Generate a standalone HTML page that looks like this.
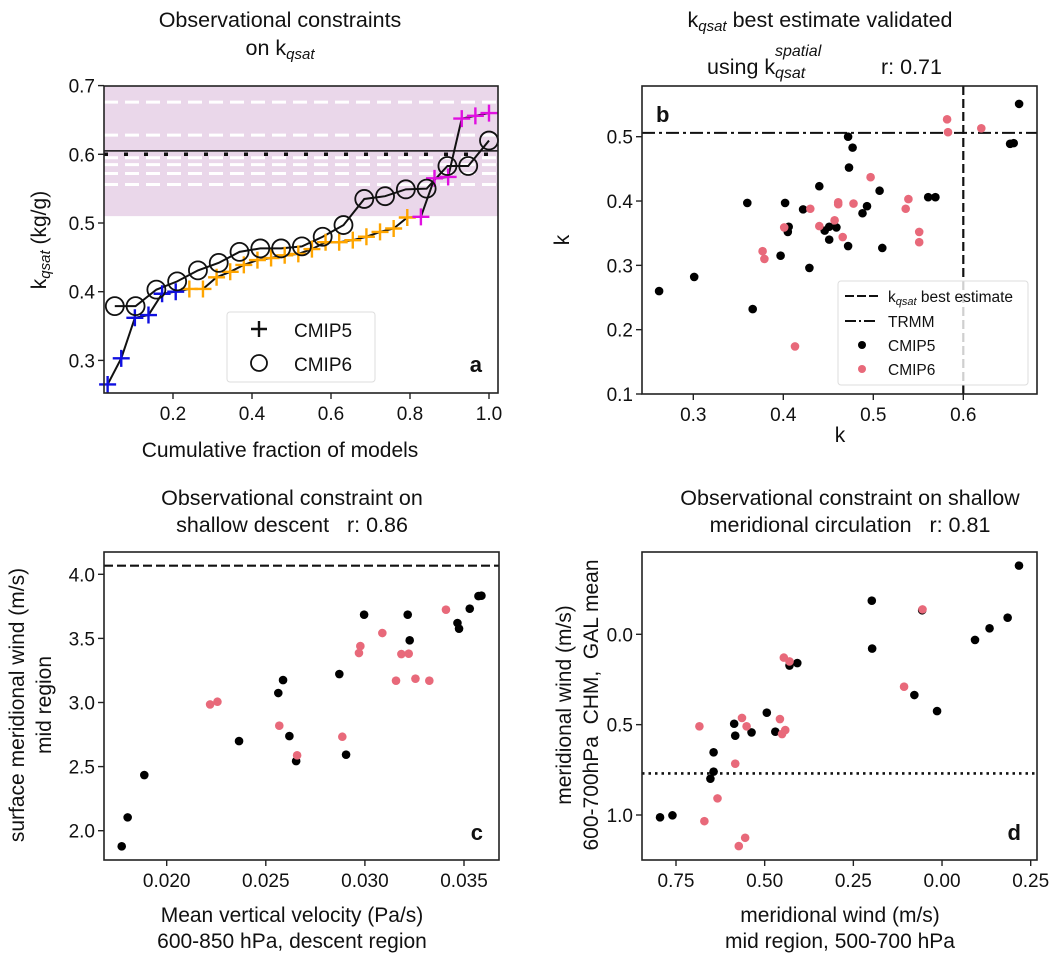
<!DOCTYPE html>
<html><head><meta charset="utf-8"><style>
html,body{margin:0;padding:0;background:#fff;}
svg{display:block;font-family:"Liberation Sans",Arial,sans-serif;}
</style></head><body>
<svg id="fig" width="1050" height="953" viewBox="0 0 1050 953" xmlns="http://www.w3.org/2000/svg"></svg>
<script>
// ---------- Panel A data ----------
const aC5 = [0.265,0.303,0.362,0.366,0.397,0.400,0.404,0.404,0.421,0.429,0.439,0.446,0.449,0.453,0.455,0.462,0.472,0.472,0.475,0.480,0.487,0.492,0.508,0.509,0.565,0.567,0.652,0.656,0.660];
const aC5Group = ['b','b','b','b','b','b','o','o','o','o','o','o','o','o','o','o','o','o','o','o','o','o','o','m','m','m','m','m','m'];
const aC6 = [0.379,0.379,0.403,0.415,0.431,0.442,0.458,0.463,0.463,0.466,0.480,0.497,0.535,0.539,0.549,0.550,0.583,0.583,0.620];
const aBand = [0.51,0.70];
const aBest = [0.605];
const aObs = [0.600];
const aWhite = [0.676,0.628,0.595,0.585,0.572,0.556];
const aXTicks = [0.2,0.4,0.6,0.8,1.0];
const aXTickLabels = ['0.2','0.4','0.6','0.8','1.0'];
const aYTicks = [0.3,0.4,0.5,0.6,0.7];
const aYTickLabels = ['0.3','0.4','0.5','0.6','0.7'];
// ---------- Panel B data ----------
const bC5x = [0.262,0.301,0.366,0.360,0.402,0.397,0.406,0.405,0.422,0.429,0.440,0.446,0.451,0.459,0.451,0.472,0.477,0.473,0.472,0.488,0.493,0.507,0.510,0.561,0.569,0.652,0.656,0.662];
const bC5y = [0.260,0.282,0.232,0.397,0.397,0.315,0.360,0.352,0.387,0.296,0.423,0.354,0.360,0.359,0.340,0.500,0.483,0.452,0.330,0.381,0.392,0.416,0.327,0.406,0.406,0.489,0.490,0.551];
const bC6x = [0.582,0.583,0.620,0.497,0.539,0.536,0.551,0.551,0.478,0.461,0.461,0.457,0.466,0.440,0.430,0.401,0.377,0.379,0.413];
const bC6y = [0.527,0.507,0.513,0.437,0.403,0.388,0.352,0.336,0.396,0.398,0.395,0.370,0.344,0.361,0.388,0.359,0.322,0.310,0.174];
const bTRMM = [0.506];
const bBest = [0.600];
const bXTicks = [0.3,0.4,0.5,0.6];
const bXTickLabels = ['0.3','0.4','0.5','0.6'];
const bYTicks = [0.1,0.2,0.3,0.4,0.5];
const bYTickLabels = ['0.1','0.2','0.3','0.4','0.5'];
// ---------- Panel C data ----------
const cC5x = [0.01773,0.01803,0.01887,0.02365,0.02563,0.02587,0.02619,0.02653,0.02871,0.02905,0.02996,0.03216,0.03226,0.03467,0.03475,0.03529,0.03573,0.03588];
const cC5y = [1.878,2.104,2.434,2.699,3.074,3.175,2.738,2.543,3.222,2.593,3.685,3.685,3.485,3.620,3.576,3.732,3.830,3.833];
const cC6x = [0.02219,0.02256,0.02568,0.02658,0.02886,0.02970,0.02977,0.03088,0.03157,0.03184,0.03221,0.03255,0.03325,0.03409];
const cC6y = [2.985,3.006,2.819,2.588,2.733,3.386,3.440,3.542,3.170,3.378,3.381,3.186,3.170,3.724];
const cObs = [4.067];
const cXTicks = [0.020,0.025,0.030,0.035];
const cXTickLabels = ['0.020','0.025','0.030','0.035'];
const cYTicks = [2.0,2.5,3.0,3.5,4.0];
const cYTickLabels = ['2.0','2.5','3.0','3.5','4.0'];
// ---------- Panel D data ----------
const dC5x = [-0.795,-0.760,-0.653,-0.644,-0.644,-0.586,-0.583,-0.537,-0.494,-0.470,-0.430,-0.408,-0.198,-0.197,-0.078,-0.056,-0.014,0.093,0.134,0.185,0.217];
const dC5y = [-1.013,-1.002,-0.799,-0.760,-0.653,-0.495,-0.561,-0.543,-0.434,-0.539,-0.173,-0.159,0.186,-0.079,-0.336,0.133,-0.425,-0.031,0.033,0.092,0.380];
const dC6x = [-0.684,-0.670,-0.633,-0.583,-0.573,-0.555,-0.564,-0.551,-0.457,-0.451,-0.442,-0.446,-0.430,-0.107,-0.055];
const dC6y = [-0.509,-1.034,-0.908,-0.716,-1.172,-1.126,-0.463,-0.509,-0.469,-0.552,-0.530,-0.129,-0.150,-0.290,0.138];
const dObs = [-0.77];
const dXTicks = [-0.75,-0.50,-0.25,0.00,0.25];
const dXTickLabels = ['0.75','0.50','0.25','0.00','0.25'];
const dYTicks = [0.0,-0.5,-1.0];
const dYTickLabels = ['0.0','0.5','1.0'];

const NS='http://www.w3.org/2000/svg';
const svg=document.getElementById('fig');
function mk(tag,attrs,parent){const e=document.createElementNS(NS,tag);for(const k in attrs)e.setAttribute(k,attrs[k]);(parent||svg).appendChild(e);return e;}
function lin(d0,d1,r0,r1){return v=>r0+(v-d0)/(d1-d0)*(r1-r0);}
const PINK='#e8697a';
const TS=19, LS=21, TTS=21.5;

function axesFrame(g,L,T,R,B){
  const f=mk('rect',{x:L,y:T,width:R-L,height:B-T,fill:'none',stroke:'#222','stroke-width':1.6},g);
  
  
}
function ticks(g,xs,xl,ys,yl,X,Y,L,B){
  xs.forEach((v,i)=>{
    const t=mk('line',{x1:X(v),x2:X(v),y1:B,y2:B+6,stroke:'#222','stroke-width':1.4},g);
    
    
    const s=mk('text',{x:X(v),y:B+27,'font-size':TS,'text-anchor':'middle',fill:'#111'},g);
    
    
    s.textContent=xl[i];
  });
  ys.forEach((v,i)=>{
    const t=mk('line',{x1:L-6,x2:L,y1:Y(v),y2:Y(v),stroke:'#222','stroke-width':1.4},g);
    
    
    const s=mk('text',{x:L-9,y:Y(v)+7,'font-size':TS,'text-anchor':'end',fill:'#111'},g);
    
    
    s.textContent=yl[i];
  });
}
function dots(g,xs,ys,X,Y,color,name){
  xs.forEach((v,i)=>{
    const c=mk('circle',{cx:X(v),cy:Y(ys[i]),r:4.3,fill:color},g);
    
    
  });
}
function txt(g,x,y,s,size,attrs,name){
  const t=mk('text',Object.assign({x:x,y:y,'font-size':size,fill:'#111','text-anchor':'middle'},attrs||{}),g);
  
  
  t.innerHTML=s;return t;
}

// ================= Panel A =================
(function(){
  const g=mk('g',{});
  
  
  const L=104,R=498,T=86,B=393;
  const X=lin(0,1,94,489), Y=lin(0.6,0.7,154.3,85.6);
  const band=mk('rect',{x:L,y:Y(aBand[1]),width:R-L,height:Y(aBand[0])-Y(aBand[1]),fill:'#ead7ea'},g);
  
  
  aWhite.forEach(v=>{
    const l=mk('line',{x1:L,x2:R,y1:Y(v),y2:Y(v),stroke:'#fff','stroke-width':3,'stroke-dasharray':'14 7'},g);
    
    
  });
  const ob=mk('line',{x1:L,x2:R,y1:Y(aObs[0]),y2:Y(aObs[0]),stroke:'#111','stroke-width':3.5,'stroke-dasharray':'4 16'},g);
  
  
  const be=mk('line',{x1:L,x2:R,y1:Y(aBest[0]),y2:Y(aBest[0]),stroke:'#111','stroke-width':1.6},g);
  
  
  const p5=aC5.map((v,i)=>X((i+1)/aC5.length)+','+Y(v)).join(' ');
  const l5=mk('polyline',{points:p5,fill:'none',stroke:'#111','stroke-width':2},g);
  
  
  const p6=aC6.map((v,i)=>X((i+1)/aC6.length)+','+Y(v)).join(' ');
  const l6=mk('polyline',{points:p6,fill:'none',stroke:'#111','stroke-width':2},g);
  
  
  const col={b:'#1010e0',o:'#ffa500',m:'#e010e0'};
  aC5.forEach((v,i)=>{
    const cx=X((i+1)/aC5.length), cy=Y(v);
    const p=mk('path',{d:`M${cx-8.5},${cy}H${cx+8.5}M${cx},${cy-8.5}V${cy+8.5}`,stroke:col[aC5Group[i]],'stroke-width':2.4},g);
    
    
  });
  aC6.forEach((v,i)=>{
    const c=mk('circle',{cx:X((i+1)/aC6.length),cy:Y(v),r:9,fill:'none',stroke:'#111','stroke-width':1.8},g);
    
    
  });
  axesFrame(g,L,T,R,B);
  ticks(g,aXTicks,aXTickLabels,aYTicks,aYTickLabels,X,Y,L,B);
  const lg=mk('g',{},g);
  
  
  mk('rect',{x:227,y:312,width:148,height:70,rx:3,fill:'#fff','fill-opacity':0.85,stroke:'#ddd'},lg);
  mk('path',{d:'M251,329H267M259,321V337',stroke:'#111','stroke-width':2.4},lg);
  mk('circle',{cx:259,cy:363,r:8,fill:'none',stroke:'#111','stroke-width':1.8},lg);
  txt(lg,294,337,'CMIP5',TS,{'text-anchor':'start'},'legend-entry-cmip5');
  txt(lg,294,371,'CMIP6',TS,{'text-anchor':'start'},'legend-entry-cmip6');
  txt(g,482,372,'a',22,{'font-weight':'bold','text-anchor':'end'},'panel-label-a');
  txt(g,280,27,'Observational constraints',TTS,{},'title-a-line1');
  txt(g,280,55,'on k<tspan font-size="15" font-style="italic" dy="4">qsat</tspan>',TTS,{},'title-a-line2');
  txt(g,280,457,'Cumulative fraction of models',LS,{},'x-axis-title-a');
  txt(g,0,0,'k<tspan font-size="15" font-style="italic" dy="4">qsat</tspan><tspan dy="-4"> (kg/g)</tspan>',LS,{transform:'translate(46,240) rotate(-90)'},'y-axis-title-a');
})();

// ================= Panel B =================
(function(){
  const g=mk('g',{});
  
  
  const L=642,R=1037,T=86,B=394;
  const X=lin(0.3,0.6,693.3,963.3), Y=lin(0.1,0.5,394,136.7);
  const tr=mk('line',{x1:L,x2:R,y1:Y(bTRMM[0]),y2:Y(bTRMM[0]),stroke:'#111','stroke-width':2,'stroke-dasharray':'13 4 3 4'},g);
  
  
  const bl=mk('line',{x1:X(bBest[0]),x2:X(bBest[0]),y1:T,y2:B,stroke:'#111','stroke-width':2.2,'stroke-dasharray':'9 4'},g);
  
  
  dots(g,bC5x,bC5y,X,Y,'#000','cmip5-point');
  dots(g,bC6x,bC6y,X,Y,PINK,'cmip6-point');
  axesFrame(g,L,T,R,B);
  ticks(g,bXTicks,bXTickLabels,bYTicks,bYTickLabels,X,Y,L,B);
  const lg=mk('g',{},g);
  
  
  mk('rect',{x:838,y:281,width:190,height:104,rx:3,fill:'#fff','fill-opacity':0.8,stroke:'#ddd'},lg);
  mk('line',{x1:845,x2:878,y1:296,y2:296,stroke:'#111','stroke-width':2,'stroke-dasharray':'9 3'},lg);
  mk('line',{x1:845,x2:878,y1:321,y2:321,stroke:'#111','stroke-width':2,'stroke-dasharray':'11 3 2 3'},lg);
  mk('circle',{cx:862,cy:345,r:4,fill:'#000'},lg);
  mk('circle',{cx:862,cy:369,r:4,fill:PINK},lg);
  txt(lg,888,302,'k<tspan font-size="11" font-style="italic" dy="3">qsat</tspan><tspan dy="-3"> best estimate</tspan>',15.5,{'text-anchor':'start'},'legend-entry-best');
  txt(lg,888,327,'TRMM',15.5,{'text-anchor':'start'},'legend-entry-trmm');
  txt(lg,888,351,'CMIP5',15.5,{'text-anchor':'start'},'legend-entry-cmip5');
  txt(lg,888,375,'CMIP6',15.5,{'text-anchor':'start'},'legend-entry-cmip6');
  txt(g,656,122,'b',22,{'font-weight':'bold','text-anchor':'start'},'panel-label-b');
  txt(g,820,27,'k<tspan font-size="15" font-style="italic" dy="4">qsat</tspan><tspan dy="-4"> best estimate validated</tspan>',TTS,{},'title-b-line1');
  txt(g,707,74,'using k',TTS,{'text-anchor':'start'},'title-b-line2');
  txt(g,775,56,'spatial',16,{'font-style':'italic','text-anchor':'start'},'title-b-sup');
  txt(g,775,78,'qsat',16,{'font-style':'italic','text-anchor':'start'},'title-b-sub');
  txt(g,881,74,'r: 0.71',TTS,{'text-anchor':'start'},'title-b-r');
  txt(g,840,442,'k',LS,{},'x-axis-title-b');
  txt(g,0,0,'k',LS,{transform:'translate(569,240) rotate(-90)'},'y-axis-title-b');
})();

// ================= Panel C =================
(function(){
  const g=mk('g',{});
  
  
  const L=104,R=499,T=552,B=860;
  const X=lin(0.020,0.035,166.7,464), Y=lin(2.0,4.0,830.7,574.3);
  const o=mk('line',{x1:L,x2:R,y1:Y(cObs[0]),y2:Y(cObs[0]),stroke:'#111','stroke-width':2.2,'stroke-dasharray':'9 4'},g);
  
  
  dots(g,cC5x,cC5y,X,Y,'#000','cmip5-point');
  dots(g,cC6x,cC6y,X,Y,PINK,'cmip6-point');
  axesFrame(g,L,T,R,B);
  ticks(g,cXTicks,cXTickLabels,cYTicks,cYTickLabels,X,Y,L,B);
  txt(g,483,840,'c',22,{'font-weight':'bold','text-anchor':'end'},'panel-label-c');
  txt(g,292,505,'Observational constraint on',TTS,{},'title-c-line1');
  txt(g,292,532,'shallow descent&#160;&#160;&#160;r: 0.86',TTS,{},'title-c-line2');
  txt(g,292,922,'Mean vertical velocity (Pa/s)',LS,{},'x-axis-title-c-line1');
  txt(g,292,948,'600-850 hPa, descent region',LS,{},'x-axis-title-c-line2');
  txt(g,0,0,'surface meridional wind (m/s)',LS,{transform:'translate(24,705) rotate(-90)'},'y-axis-title-c-line1');
  txt(g,0,0,'mid region',LS,{transform:'translate(51,705) rotate(-90)'},'y-axis-title-c-line2');
})();

// ================= Panel D =================
(function(){
  const g=mk('g',{});
  
  
  const L=642,R=1037,T=552,B=860;
  const X=lin(-0.75,0.25,676,1030.7), Y=lin(-1.0,0.0,815,634.3);
  const o=mk('line',{x1:L,x2:R,y1:Y(dObs[0]),y2:Y(dObs[0]),stroke:'#111','stroke-width':2.6,'stroke-dasharray':'2.5 4'},g);
  
  
  dots(g,dC5x,dC5y,X,Y,'#000','cmip5-point');
  dots(g,dC6x,dC6y,X,Y,PINK,'cmip6-point');
  axesFrame(g,L,T,R,B);
  ticks(g,dXTicks,dXTickLabels,dYTicks,dYTickLabels,X,Y,L,B);
  txt(g,1021,840,'d',22,{'font-weight':'bold','text-anchor':'end'},'panel-label-d');
  txt(g,850,505,'Observational constraint on shallow',TTS,{},'title-d-line1');
  txt(g,850,532,'meridional circulation&#160;&#160;&#160;r: 0.81',TTS,{},'title-d-line2');
  txt(g,840,922,'meridional wind (m/s)',LS,{},'x-axis-title-d-line1');
  txt(g,840,948,'mid region, 500-700 hPa',LS,{},'x-axis-title-d-line2');
  txt(g,0,0,'meridional wind (m/s)',LS,{transform:'translate(571,705) rotate(-90)'},'y-axis-title-d-line1');
  txt(g,0,0,'600-700hPa&#160;&#160;CHM,&#160;&#160;GAL mean',LS,{transform:'translate(598,705) rotate(-90)'},'y-axis-title-d-line2');
})();
</script>
</body></html>
